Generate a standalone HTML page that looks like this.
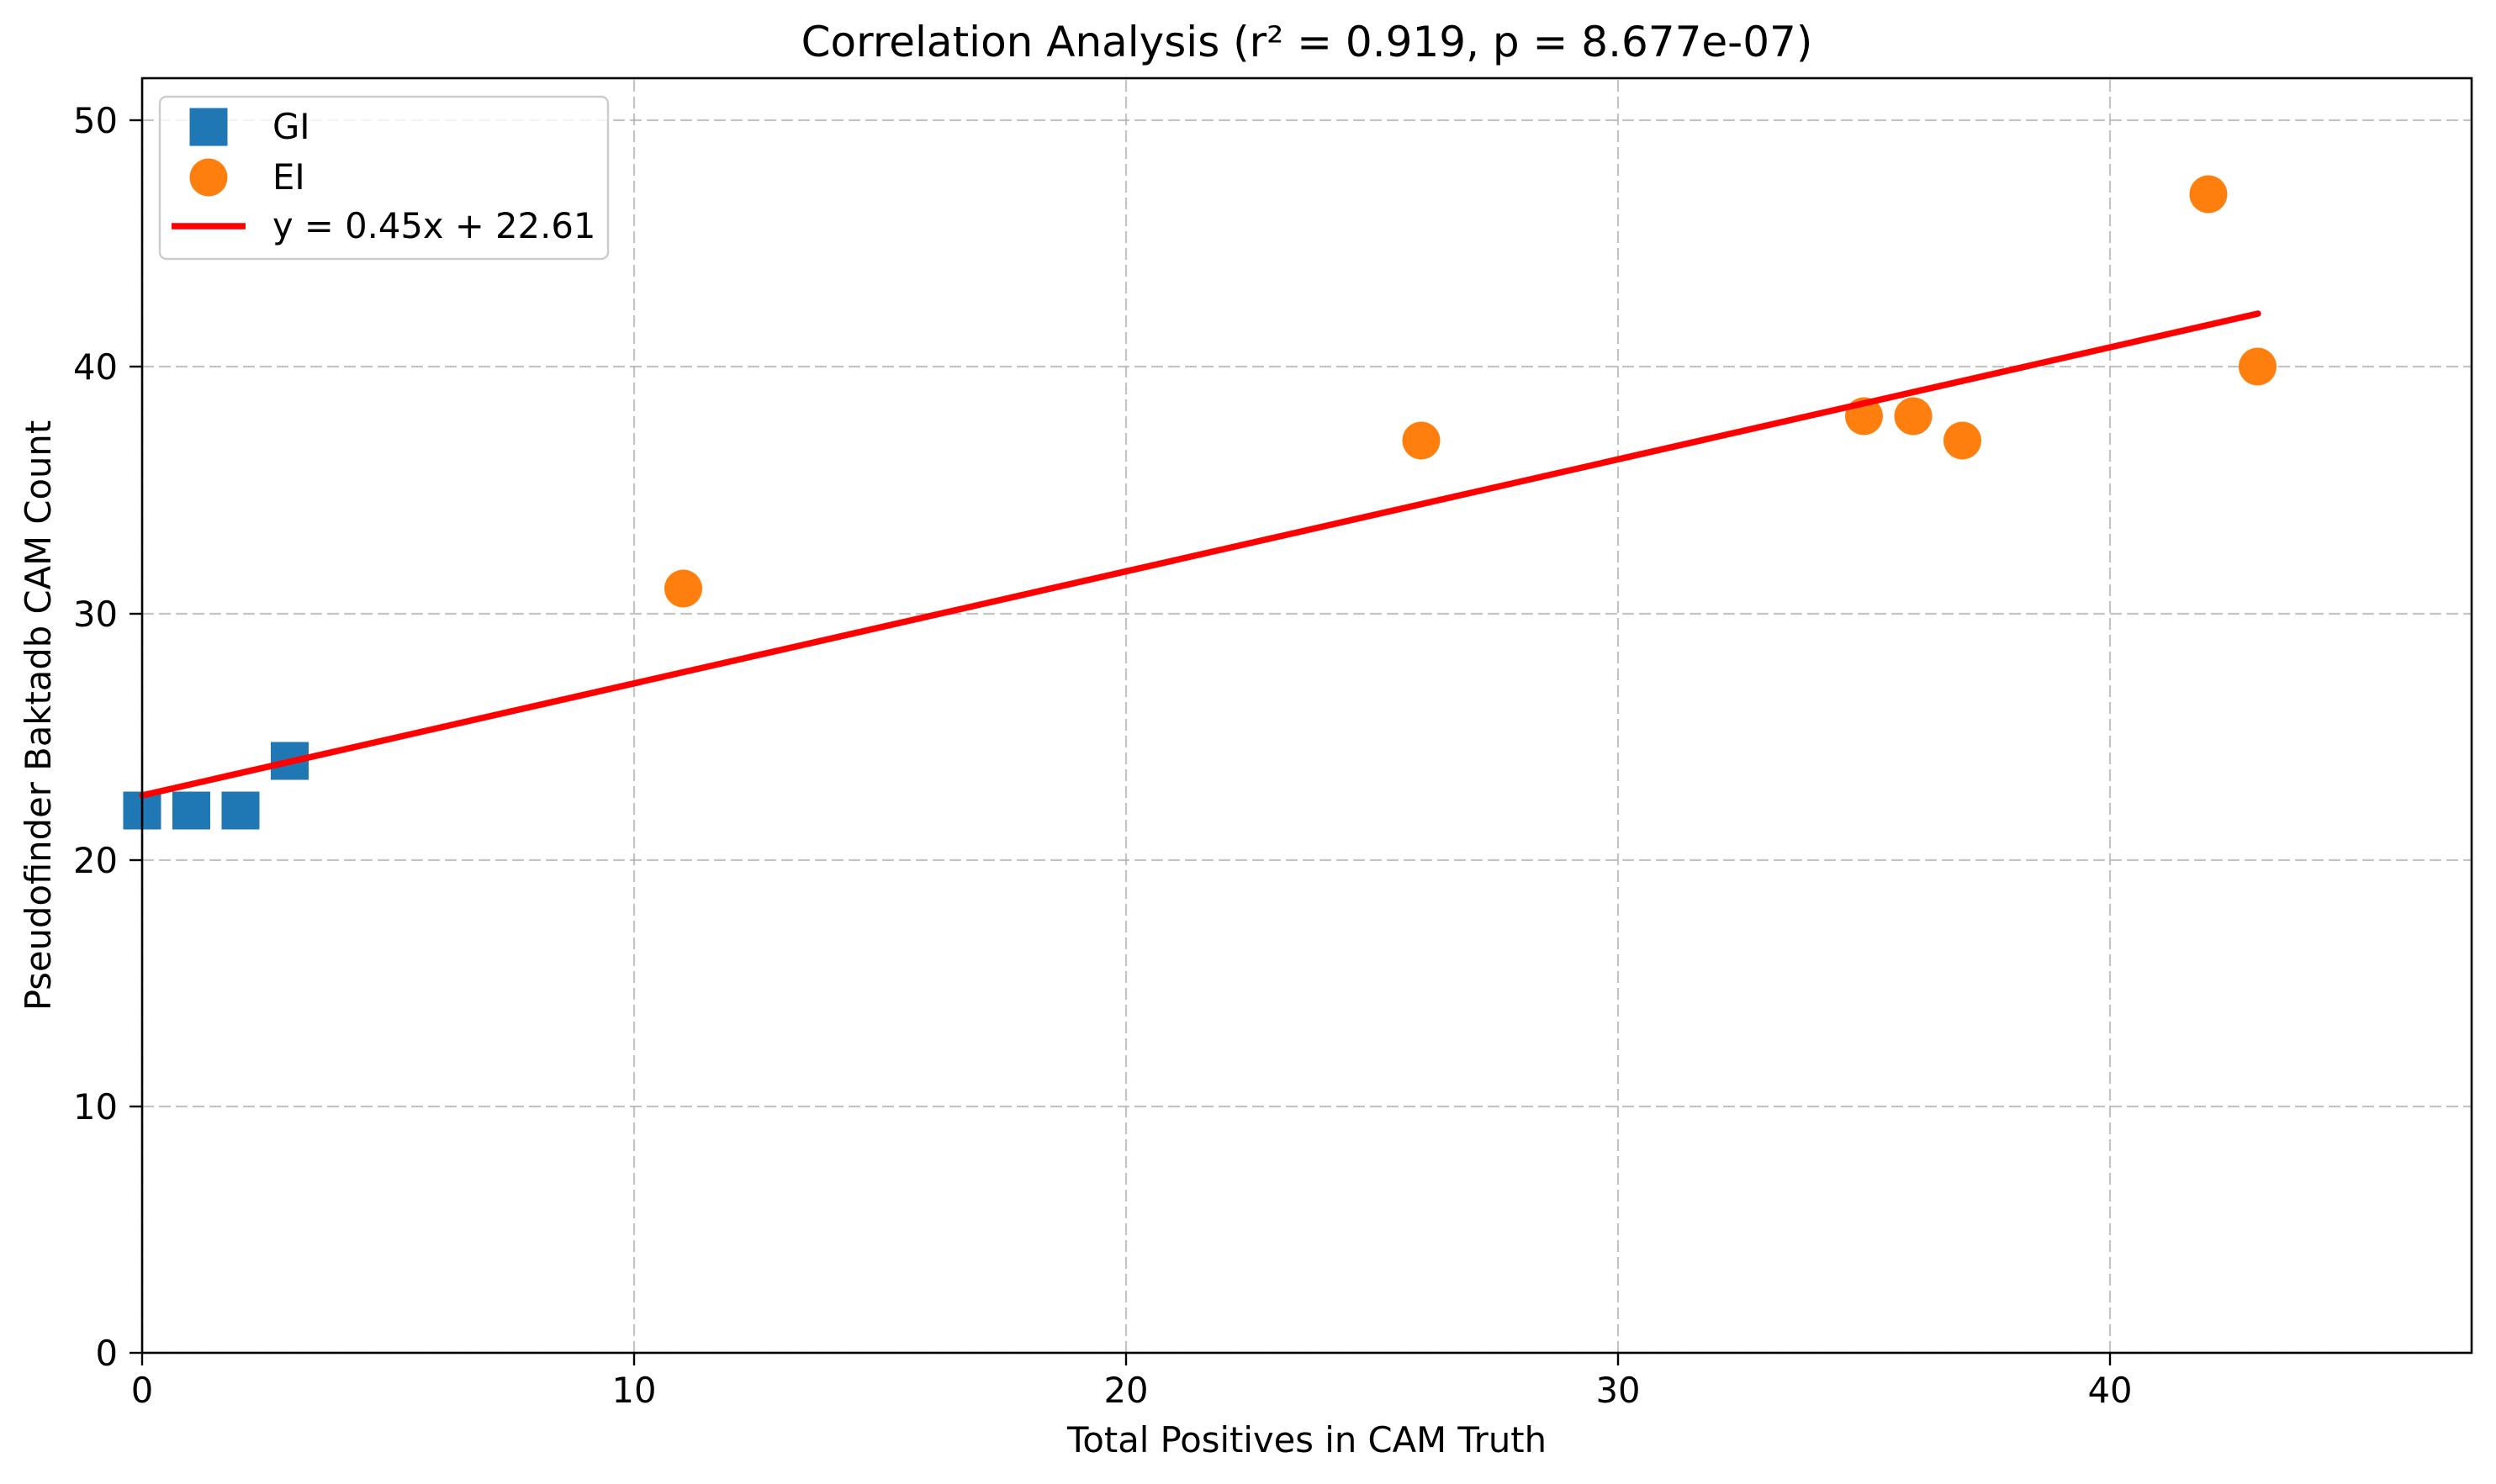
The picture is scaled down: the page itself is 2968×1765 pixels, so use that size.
<!DOCTYPE html>
<html><head><meta charset="utf-8"><style>
html,body{margin:0;padding:0;background:#fff}
svg{display:block}
text{font-family:"DejaVu Sans","Liberation Sans",sans-serif;fill:#000}
</style></head><body>
<svg width="2968" height="1765" viewBox="0 0 2968 1765" xmlns="http://www.w3.org/2000/svg">
<rect width="2968" height="1765" fill="#fff"/>
<g stroke="#b0b0b0" stroke-opacity="0.75" stroke-width="2.2" stroke-dasharray="14,6">
<line x1="169" y1="1609" x2="169" y2="93"/>
<line x1="754" y1="1609" x2="754" y2="93"/>
<line x1="1339" y1="1609" x2="1339" y2="93"/>
<line x1="1924" y1="1609" x2="1924" y2="93"/>
<line x1="2509" y1="1609" x2="2509" y2="93"/>
<line x1="169" y1="1609" x2="2939" y2="1609"/>
<line x1="169" y1="1316" x2="2939" y2="1316"/>
<line x1="169" y1="1023" x2="2939" y2="1023"/>
<line x1="169" y1="730" x2="2939" y2="730"/>
<line x1="169" y1="436" x2="2939" y2="436"/>
<line x1="169" y1="143" x2="2939" y2="143"/>
</g>
<g fill="#1f77b4">
<rect x="146.5" y="941.5" width="45" height="45"/>
<rect x="205" y="941.5" width="45" height="45"/>
<rect x="263.5" y="941.5" width="45" height="45"/>
<rect x="322" y="882.5" width="45" height="45"/>
</g>
<g fill="#ff7f0e">
<circle cx="812.5" cy="700" r="22.5"/>
<circle cx="1690" cy="524" r="22.5"/>
<circle cx="2216.5" cy="495" r="22.5"/>
<circle cx="2275" cy="495" r="22.5"/>
<circle cx="2333.5" cy="524" r="22.5"/>
<circle cx="2626" cy="231" r="22.5"/>
<circle cx="2684.5" cy="436" r="22.5"/>
</g>
<line x1="169" y1="946" x2="2685" y2="373" stroke="#ff0000" stroke-width="7.5" stroke-linecap="round"/>
<rect x="169" y="93" width="2770" height="1516" fill="none" stroke="#000" stroke-width="2.6"/>
<g stroke="#000" stroke-width="2.4">
<line x1="169" y1="1609" x2="169" y2="1624"/>
<line x1="754" y1="1609" x2="754" y2="1624"/>
<line x1="1339" y1="1609" x2="1339" y2="1624"/>
<line x1="1924" y1="1609" x2="1924" y2="1624"/>
<line x1="2509" y1="1609" x2="2509" y2="1624"/>
<line x1="154" y1="1609" x2="169" y2="1609"/>
<line x1="154" y1="1316" x2="169" y2="1316"/>
<line x1="154" y1="1023" x2="169" y2="1023"/>
<line x1="154" y1="730" x2="169" y2="730"/>
<line x1="154" y1="436" x2="169" y2="436"/>
<line x1="154" y1="143" x2="169" y2="143"/>
</g>
<g font-size="41.7" text-anchor="middle">
<text x="169" y="1668">0</text>
<text x="754" y="1668">10</text>
<text x="1339" y="1668">20</text>
<text x="1924" y="1668">30</text>
<text x="2509" y="1668">40</text>
</g>
<g font-size="41.7" text-anchor="end">
<text x="140" y="1624">0</text>
<text x="140" y="1331">10</text>
<text x="140" y="1038">20</text>
<text x="140" y="745">30</text>
<text x="140" y="451">40</text>
<text x="140" y="158">50</text>
</g>
<text x="1554" y="1727" font-size="41.7" text-anchor="middle">Total Positives in CAM Truth</text>
<text transform="translate(60,851) rotate(-90)" font-size="41.7" text-anchor="middle">Pseudofinder Baktadb CAM Count</text>
<text x="1554" y="67" font-size="50" text-anchor="middle">Correlation Analysis (r² = 0.919, p = 8.677e-07)</text>
<rect x="190" y="115" width="533" height="193" rx="8" fill="#fff" fill-opacity="0.8" stroke="#cccccc" stroke-width="2.4"/>
<rect x="225.5" y="128.5" width="45" height="45" fill="#1f77b4"/>
<circle cx="248" cy="211" r="22.5" fill="#ff7f0e"/>
<line x1="204" y1="269" x2="292" y2="269" stroke="#ff0000" stroke-width="7.5"/>
<g font-size="41.7">
<text x="324" y="165">GI</text>
<text x="324" y="225">EI</text>
<text x="324" y="283">y = 0.45x + 22.61</text>
</g>
</svg>
</body></html>
